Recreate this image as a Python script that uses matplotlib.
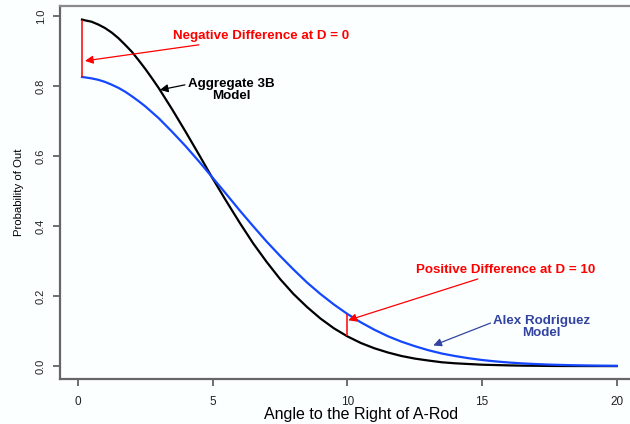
import matplotlib
matplotlib.use("Agg")
import matplotlib.pyplot as plt

# angle to the right of A-Rod (x) and probability of out for the two models
angle = [0.15, 0.25, 0.5, 0.75, 1.0, 1.25, 1.5, 1.75, 2.0, 2.25, 2.5, 2.75,
         3.0, 3.5, 4.0, 4.5, 5.0, 5.5, 6.0, 6.5,
         7.0, 7.5, 8.0, 8.5, 9.0, 9.5, 10.0, 10.5, 11.0, 11.5, 12.0, 12.5,
         13.0, 13.5, 14.0, 14.5, 15.0, 15.5, 16.0, 16.5, 17.0, 17.5, 18.0,
         18.5, 19.0, 19.5, 20.0]
aggregate_3b = [0.990, 0.988, 0.984, 0.976, 0.966, 0.953, 0.937, 0.918, 0.898,
                0.874, 0.849, 0.822, 0.794, 0.733, 0.669,
                0.603, 0.536, 0.472, 0.410, 0.351, 0.298, 0.249, 0.206, 0.169,
                0.136, 0.108, 0.085, 0.066, 0.051, 0.039, 0.029, 0.0215, 0.016,
                0.011, 0.008, 0.006, 0.004, 0.003, 0.002, 0.0013, 0.001, 0.0005,
                0.0003, 0.0002, 0.0001, 0.0001, 0.0]
alex_rodriguez = [0.826, 0.825, 0.822, 0.818, 0.812, 0.804, 0.795, 0.784, 0.771,
                  0.757, 0.742, 0.725, 0.708, 0.669, 0.628,
                  0.584, 0.538, 0.492, 0.445, 0.400, 0.356, 0.315, 0.276, 0.239,
                  0.206, 0.176, 0.149, 0.125, 0.104, 0.0855, 0.070, 0.057,
                  0.0455, 0.036, 0.0287, 0.0225, 0.0174, 0.0134, 0.0102, 0.0077,
                  0.0058, 0.0043, 0.0032, 0.0023, 0.0017, 0.0012, 0.0009]

x_ticks = [0, 5, 10, 15, 20]
y_ticks = [0.0, 0.2, 0.4, 0.6, 0.8, 1.0]

plt.rcParams['font.family'] = ['Liberation Sans', 'DejaVu Sans']

bg = '#fbffff'
fig = plt.figure(figsize=(6.3, 4.24), dpi=100, facecolor=bg)
ax = fig.add_axes([0.0952, 0.106, 0.918, 0.8797], facecolor=bg)

ax.plot(angle, aggregate_3b, color='black', lw=1.6, solid_joinstyle='round')
ax.plot(angle, alex_rodriguez, color='#1447ff', lw=1.6, solid_joinstyle='round')

# differences at D = 0 and D = 10
ax.vlines(angle[0], alex_rodriguez[0], aggregate_3b[0], color='red', lw=1.1)
i10 = angle.index(10.0)
ax.vlines(angle[i10], aggregate_3b[i10], alex_rodriguez[i10], color='red', lw=1.1)

arrow = dict(arrowstyle='-|>', lw=0.9, mutation_scale=12, shrinkA=0, shrinkB=0)
fs = 9.6
ax.annotate("Negative Difference at D = 0", xy=(0.26, 0.872), xytext=(3.53, 0.943),
            color='red', fontsize=fs, fontweight='bold', ha='left', va='center',
            arrowprops=dict(arrow, color='red'))
ax.annotate("Aggregate 3B\nModel", xy=(3.04, 0.789), xytext=(5.68, 0.79),
            color='black', fontsize=fs, fontweight='bold', ha='center', va='center',
            linespacing=1.0,
            arrowprops=dict(arrow, color='black', relpos=(0.0, 0.72)))
ax.annotate("Positive Difference at D = 10", xy=(10.03, 0.131), xytext=(12.54, 0.274),
            color='red', fontsize=fs, fontweight='bold', ha='left', va='center',
            arrowprops=dict(arrow, color='red'))
ax.annotate("Alex Rodriguez\nModel", xy=(13.19, 0.059), xytext=(17.22, 0.111),
            color='#3344a0', fontsize=fs, fontweight='bold', ha='center', va='center',
            linespacing=1.0,
            arrowprops=dict(arrow, color='#3344a0', relpos=(0.0, 0.72)))

ax.set_xlim(-0.668, 20.8)
ax.set_ylim(-0.037, 1.0286)
ax.set_xticks(x_ticks)
ax.set_yticks(y_ticks)
ax.set_xticklabels([str(t) for t in x_ticks], fontsize=8.5)
ax.set_yticklabels([f"{t:.1f}" for t in y_ticks], fontsize=8, rotation=90, va='center')
ax.tick_params(axis='both', direction='out', length=5, width=1.2, colors='#555555',
               labelcolor='#222222')
ax.tick_params(axis='x', pad=7)
ax.tick_params(axis='y', pad=5)

for side, sp in ax.spines.items():
    sp.set_color('#666666')
    sp.set_linewidth(1.6)
ax.spines['top'].set_color('#8a8a8a')

ax.set_xlabel("Angle to the Right of A-Rod", fontsize=11.5, labelpad=1)
ax.xaxis.set_label_coords(0.52, -0.075)
ax.set_ylabel("Probability of Out", fontsize=8.2, labelpad=9)

fig.savefig("out.png", dpi=100, facecolor=bg)
